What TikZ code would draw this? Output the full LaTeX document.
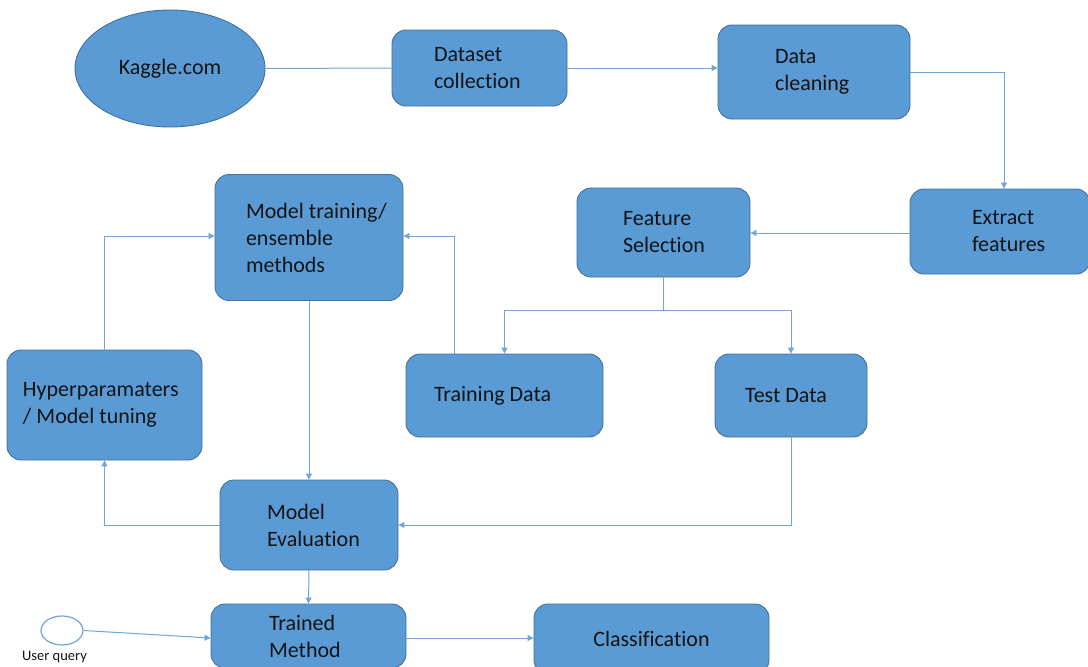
\documentclass[tikz,border=0pt]{standalone}
\usepackage{fontspec}
\setmainfont[Ligatures=NoCommon]{Carlito}
\usetikzlibrary{arrows.meta,shapes.geometric,calc}
\definecolor{boxfill}{HTML}{5B9BD5}
\definecolor{boxedge}{HTML}{41719C}
\definecolor{wire}{HTML}{6FA5DA}
\definecolor{ink}{HTML}{141414}
\tikzset{
  stepbox/.style={rectangle, rounded corners=14pt, fill=boxfill, draw=boxedge,
    line width=0.9pt, inner sep=0pt, align=flush left, text=ink,
    font=\fontsize{22}{27}\selectfont},
  wireline/.style={draw=wire, line width=1pt},
  arr/.style={wireline, -{Triangle[length=6pt,width=6pt]}},
}
\begin{document}
\begin{tikzpicture}[x=1pt,y=-1pt]
\path[use as bounding box] (0,0) rectangle (1088,667);
\clip (0,0) rectangle (1088,667);
\fill[white] (0,0) rectangle (1088,667);

% data source
\node[ellipse, fill=boxfill, draw=boxedge, line width=0.9pt, inner sep=0pt,
      minimum width=190pt, minimum height=117pt, text=ink,
      font=\fontsize{22}{27}\selectfont] (kaggle) at (170,68.5) {Kaggle.com};

% pipeline steps
\node[stepbox, minimum width=175pt, minimum height=76pt, text width=91pt]
  (dataset) at (479.5,68) {Dataset\\collection};
\node[stepbox, minimum width=192pt, minimum height=94pt, text width=78pt]
  (cleaning) at (814,72) {Data\\cleaning};
\node[stepbox, minimum width=180pt, minimum height=85pt, text width=56pt]
  (extract) at (1000,231.5) {Extract\\\mbox{features}};
\node[stepbox, minimum width=173pt, minimum height=89pt, text width=81pt]
  (featsel) at (663.5,232.5) {Feature\\Selection};
\node[stepbox, minimum width=188pt, minimum height=126pt, text width=126pt]
  (train) at (309,237.5) {\mbox{Model training/}\\ensemble\\methods};
\node[stepbox, minimum width=195pt, minimum height=110pt, text width=163pt]
  (hyper) at (104.5,405) {Hyperparamaters\\\mbox{/ Model tuning}};
\node[stepbox, minimum width=197pt, minimum height=83pt, text width=141pt]
  (tdata) at (504.5,395.5) {Training Data};
\node[stepbox, minimum width=152pt, minimum height=83pt, text width=92pt]
  (testd) at (791,395.5) {Test Data};
\node[stepbox, minimum width=178pt, minimum height=90pt, text width=84pt]
  (eval) at (309,525) {Model\\Evaluation};
\node[stepbox, minimum width=195pt, minimum height=64pt, text width=79pt]
  (trained) at (308.5,636) {Trained\\Method};
\node[stepbox, minimum width=235pt, minimum height=70pt, align=center]
  (classif) at (651.5,639) {Classification};

% user input
\node[ellipse, fill=white, draw=wire, line width=1.2pt, inner sep=0pt,
      minimum width=42pt, minimum height=29pt] (userq) at (62,630.5) {};
\node[text=ink, font=\fontsize{14.5}{17}\selectfont, inner sep=0pt]
  (userqlabel) at (54.5,657) {User query};

% connectors
\draw[wireline] (kaggle.east) -- (dataset.west);
\draw[arr] (dataset.east) -- (dataset.east -| cleaning.west);
\draw[arr] (cleaning.east) -| ([xshift=4pt]extract.north);
\draw[arr] ([yshift=-1.5pt]extract.west) -- ([yshift=-1.5pt]extract.west -| featsel.east);
\coordinate (split) at ($(featsel.south)+(0,33)$);
\draw[wireline] (featsel.south) -- (split);
\draw[arr] (split) -| (tdata.north);
\draw[arr] (split) -| (testd.north);
\draw[arr] ([xshift=-50pt]tdata.north) |- ([yshift=1.5pt]train.east);
\draw[arr] (hyper.north) |- ([yshift=1.5pt]train.west);
\draw[arr] (train.south) -- (eval.north);
\draw[arr] (eval.west) -| (hyper.south);
\draw[arr] (testd.south) |- (eval.east);
\draw[arr] (eval.south) -- (trained.north);
\draw[arr] (userq.east) -- ([yshift=-2pt]trained.west);
\draw[arr] ([yshift=-2pt]trained.east) -- ([yshift=1pt]classif.west);
\end{tikzpicture}
\end{document}
